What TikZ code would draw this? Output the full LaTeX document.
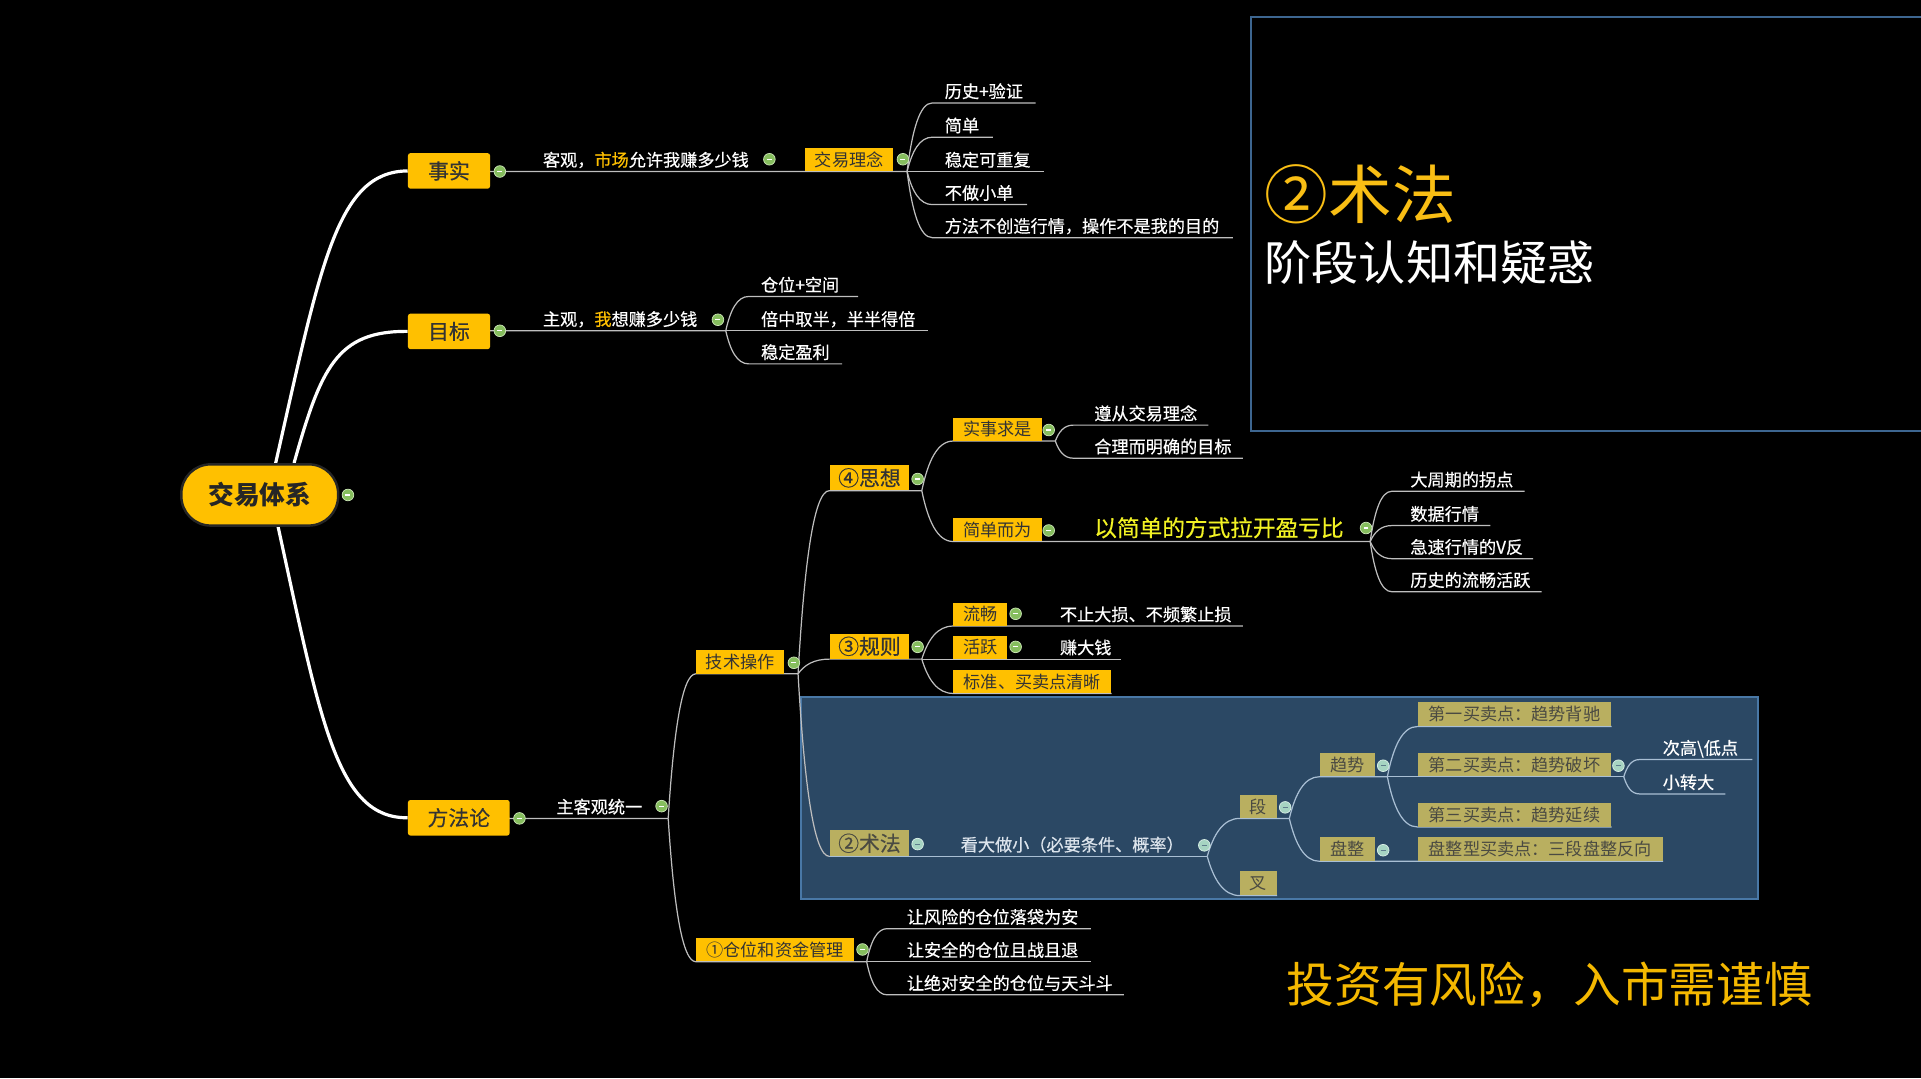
\documentclass[tikz,border=0pt]{standalone}
\usepackage{fontspec}
\setmainfont{Noto Sans CJK SC}
\newfontfamily\semib{Noto Sans CJK SC}[FakeBold=0.45]
\usetikzlibrary{calc}
\definecolor{ybox}{HTML}{FFC000}
\definecolor{boxtxt}{HTML}{333333}
\definecolor{ulgray}{HTML}{BEBEBE}
\definecolor{pline}{HTML}{A9BFD4}
\definecolor{panelfill}{HTML}{2B4864}
\definecolor{panelborder}{HTML}{4978A6}
\definecolor{tboxc}{HTML}{3D6690}
\definecolor{khaki}{HTML}{B9AF60}
\definecolor{ktxt}{HTML}{4A4A42}
\definecolor{ptext}{HTML}{DCE4EC}
\definecolor{bright}{HTML}{F2F224}
\definecolor{gold}{HTML}{FFC000}
\definecolor{titley}{HTML}{F9BE14}
\definecolor{disc}{HTML}{F4B800}
\definecolor{btnfill}{HTML}{86BE5E}
\definecolor{btnedge}{HTML}{C9E4B4}
\definecolor{pbtnfill}{HTML}{A6D4C2}
\definecolor{pbtnedge}{HTML}{D8EEE6}
\definecolor{pminus}{HTML}{5E7D8C}
\newcommand\fsz[1]{\fontsize{#1pt}{#1pt}\selectfont}
\pgfdeclarelayer{back}
\pgfdeclarelayer{lines}
\pgfsetlayers{back,lines,main}
\begin{document}
\begin{tikzpicture}[x=1pt,y=-1pt,
  uline/.style={draw=ulgray, line width=1pt},
  pul/.style={draw=pline, line width=1pt},
  trunk/.style={draw=white, line width=2.6pt},
  mcurve/.style={to path={let \p1=(\tikztostart),\p2=(\tikztotarget) in
     .. controls ({\x1+0.2*((\x2)-(\x1))},{\y1+0.6*((\y2)-(\y1))}) and ({\x1+0.5*((\x2)-(\x1))},{\y2}) .. (\p2) \tikztonodes}},
  leaf/.style={anchor=south west, inner xsep=0pt, inner ysep=4pt, align=left, text=white, font=\semib\fsz{14}, text height=10.6pt, text depth=0pt},
  ybx/.style={anchor=south west, inner sep=0pt, fill=ybox, text=boxtxt, font=\fsz{14}, text height=10.6pt, text depth=0pt, minimum height=19pt},
  kbx/.style={ybx, fill=khaki, text=ktxt},
  bigbx/.style={ybx, font=\semib\fsz{17}, text height=12.9pt, minimum width=65pt, minimum height=20.5pt},
  kbigbx/.style={bigbx, fill=khaki, text=ktxt},
  mbox/.style={rectangle, rounded corners=2pt, fill=ybox, text=boxtxt, inner sep=0pt, font=\semib\fsz{17}, text height=12.9pt, text depth=0pt, minimum height=29pt},
  rootnode/.style={rectangle, rounded corners=24pt, fill=ybox, draw=black!85, line width=2pt, text=black!85, inner sep=0pt, font=\fsz{21}\bfseries, text height=16pt, text depth=0pt, minimum width=128pt, minimum height=50pt},
  btn/.style={circle, inner sep=0pt, minimum size=9.5pt, fill=btnfill, draw=btnedge, line width=0.6pt, text=white, font=\fsz{4}},
  pbtn/.style={btn, fill=pbtnfill, draw=pbtnedge, text=pminus},
  bigtxt/.style={anchor=base west, inner sep=0pt}
]
\useasboundingbox (0,0) rectangle (1568,880);
\begin{pgfonlayer}{back}
\fill[black] (0,0) rectangle (1568,880);
\fill[panelfill] (654,569) rectangle (1435,734);
\draw[panelborder,line width=1.6pt] (654,569) rectangle (1435,734);
\draw[tboxc,line width=1.6pt] (1568,14) -- (1021,14) -- (1021,352) -- (1568,352);
\end{pgfonlayer}

% titles
\node[bigtxt, font=\fsz{52}, text=titley] (tt1) at (1032,178) {②术法};
\node[bigtxt, font=\fsz{38.5}, text=white] (tt2) at (1032,229) {阶段认知和疑惑};
\node[bigtxt, font=\fsz{39}, text=disc] (tt3) at (1050,818) {投资有风险，入市需谨慎};

% root and main topics
\node[rootnode] (root) at (212,404) {交易体系};
\node[btn] (rootc) at (284,404) {\rule{4pt}{1pt}};
\node[mbox, minimum width=67pt] (shishi) at (366.5,139.5) {事实};
\node[btn] (shishic) at (408,140) {\rule{4pt}{1pt}};
\node[mbox, minimum width=67pt] (mubiao) at (366.5,270.5) {目标};
\node[btn] (mubiaoc) at (408,270) {\rule{4pt}{1pt}};
\node[mbox, minimum width=83pt] (ffl) at (374.5,667.5) {方法论};
\node[btn] (fflc) at (424,668) {\rule{4pt}{1pt}};

% 事实 branch
\node[leaf, text width=257pt] (kg) at (400,140) {\hspace*{43pt}客观，{\color{gold}市场}允许我赚多少钱};
\node[btn] (kgc) at (628,130) {\rule{4pt}{1pt}};
\node[ybx, minimum width=72pt] (jx) at (657,140) {交易理念};
\node[btn] (jxc) at (737,130) {\rule{4pt}{1pt}};
\coordinate (jxb) at ($(jx.south east)+(11,0)$);
\node[leaf, text width=84pt] (l1) at (761,84) {\hspace*{10pt}历史+验证};
\node[leaf, text width=49pt] (l2) at (761,112) {\hspace*{10pt}简单};
\node[leaf, text width=91pt] (l3) at (761,140) {\hspace*{10pt}稳定可重复};
\node[leaf, text width=77pt] (l4) at (761,167) {\hspace*{10pt}不做小单};
\node[leaf, text width=245pt] (l5) at (761,194) {\hspace*{10pt}方法不创造行情，操作不是我的目的};

% 目标 branch
\node[leaf, text width=192pt] (zg) at (400,270) {\hspace*{43pt}主观，{\color{gold}我}想赚多少钱};
\node[btn] (zgc) at (586,261) {\rule{4pt}{1pt}};
\node[leaf, text width=89pt] (m1) at (611,242) {\hspace*{10pt}仓位+空间};
\node[leaf, text width=146pt] (m2) at (611,270) {\hspace*{10pt}倍中取半，半半得倍};
\node[leaf, text width=76pt] (m3) at (611,297) {\hspace*{10pt}稳定盈利};

% 方法论 branch
\node[leaf, text width=129pt] (zk) at (416,668) {\hspace*{38pt}主客观统一};
\node[btn] (zkc) at (540,658) {\rule{4pt}{1pt}};
\node[ybx, minimum width=72pt] (js) at (568,550) {技术操作};
\node[btn] (jsc) at (648,541) {\rule{4pt}{1pt}};
\coordinate (jsb) at ($(js.south east)+(11,0)$);
\node[ybx, minimum width=129pt] (cw) at (568,785) {①仓位和资金管理};
\node[btn] (cwc) at (704,775) {\rule{4pt}{1pt}};
\coordinate (cwb) at ($(cw.south east)+(10,0)$);
\node[leaf, text width=166pt] (c1) at (724,758) {\hspace*{16pt}让风险的仓位落袋为安};
\node[leaf, text width=166pt] (c2) at (724,785) {\hspace*{16pt}让安全的仓位且战且退};
\node[leaf, text width=193pt] (c3) at (724,812) {\hspace*{16pt}让绝对安全的仓位与天斗斗};

% ④思想
\node[bigbx] (sx) at (677,400.5) {④思想};
\node[btn] (sxc) at (749,391) {\rule{4pt}{1pt}};
\coordinate (sxb) at ($(sx.south east)+(10,0)$);
\node[ybx, minimum width=72pt] (ss) at (778,360) {实事求是};
\node[btn] (ssc) at (856,351) {\rule{4pt}{1pt}};
\coordinate (ssb) at ($(ss.south east)+(11,0)$);
\node[leaf, text width=110pt] (s1) at (876,347) {\hspace*{17pt}遵从交易理念};
\node[leaf, text width=138pt] (s2) at (876,374) {\hspace*{17pt}合理而明确的目标};
\node[ybx, minimum width=72pt] (jd) at (778,442) {简单而为};
\node[btn] (jdc) at (856,433) {\rule{4pt}{1pt}};
\node[leaf, text width=268pt, font=\semib\fsz{18.5}, text height=14pt, text=bright] (yj) at (850,442) {\hspace*{43pt}以简单的方式拉开盈亏比};
\node[btn] (yjc) at (1115,431) {\rule{4pt}{1pt}};
\node[leaf, text width=108pt] (y1) at (1136,401) {\hspace*{15pt}大周期的拐点};
\node[leaf, text width=80pt] (y2) at (1136,429) {\hspace*{15pt}数据行情};
\node[leaf, text width=115pt] (y3) at (1136,456) {\hspace*{15pt}急速行情的V反};
\node[leaf, text width=122pt] (y4) at (1136,483) {\hspace*{15pt}历史的流畅活跃};

% ③规则
\node[bigbx] (gz) at (677,538) {③规则};
\node[btn] (gzc) at (749,528) {\rule{4pt}{1pt}};
\coordinate (gzb) at ($(gz.south east)+(10,0)$);
\node[ybx, minimum width=44pt] (lc) at (778,511) {流畅};
\node[btn] (lcc) at (829,501) {\rule{4pt}{1pt}};
\node[leaf, text width=192pt] (lct) at (822,511) {\hspace*{43pt}不止大损、不频繁止损};
\node[ybx, minimum width=44pt] (hy) at (778,538) {活跃};
\node[btn] (hyc) at (829,528) {\rule{4pt}{1pt}};
\node[leaf, text width=93pt] (hyt) at (822,538) {\hspace*{43pt}赚大钱};
\node[ybx, minimum width=129pt] (bz) at (778,566) {标准、买卖点清晰};

% ②术法 panel
\node[kbigbx, minimum height=21pt] (sf) at (677,699) {②术法};
\node[pbtn] (sfc) at (749,689) {\rule{4pt}{1pt}};
\node[leaf, text=ptext, text width=243pt] (kd) at (742,699) {\hspace*{42pt}看大做小（必要条件、概率）};
\node[pbtn] (kdc) at (983,690) {\rule{4pt}{1pt}};
\node[kbx, minimum width=30pt] (duan) at (1012,668) {段};
\node[pbtn] (duanc) at (1049,659) {\rule{4pt}{1pt}};
\coordinate (duanb) at ($(duan.south east)+(10,0)$);
\node[kbx, minimum width=30pt, minimum height=20pt] (cha) at (1012,731) {叉};
\node[kbx, minimum width=45pt] (qs) at (1077,634) {趋势};
\node[pbtn] (qsc) at (1129,625) {\rule{4pt}{1pt}};
\coordinate (qsb) at ($(qs.south east)+(10,0)$);
\node[kbx, minimum width=45pt, minimum height=20pt] (pz) at (1077,703) {盘整};
\node[pbtn] (pzc) at (1129,694) {\rule{4pt}{1pt}};
\node[kbx, minimum width=200pt, minimum height=20pt] (pzx) at (1157,703) {盘整型买卖点：三段盘整反向};
\node[kbx, minimum width=158pt, minimum height=20pt] (b1) at (1157,593) {第一买卖点：趋势背驰};
\node[kbx, minimum width=158pt] (b2) at (1157,634) {第二买卖点：趋势破坏};
\node[pbtn] (b2c) at (1321,625) {\rule{4pt}{1pt}};
\coordinate (b2b) at ($(b2.south east)+(10,0)$);
\node[kbx, minimum width=158pt] (b3) at (1157,675) {第三买卖点：趋势延续};
\node[leaf, text width=92pt] (t1) at (1338,620) {\hspace*{19pt}次高\textbackslash 低点};
\node[leaf, text width=70pt] (t2) at (1338,648) {\hspace*{19pt}小转大};

\begin{pgfonlayer}{lines}
\draw[trunk] ($(root.north)+(13,0)$) .. controls (262,215) and (275,140) .. (shishi.west);
\draw[trunk] ($(root.north)+(28,0)$) .. controls (262,300) and (275,270) .. (mubiao.west);
\draw[trunk] ($(root.south)+(15,0)$) .. controls (262,590) and (275,668) .. (ffl.west);

\draw[uline] (shishi.east) -- (kg.south west) -- (kg.south east) -- (jx.south west) -- (jxb);
\foreach \nd in {l1,l2,l3,l4,l5} \draw[uline] (jxb) to[mcurve] (\nd.south west) -- (\nd.south east);
\draw[uline] (mubiao.east) -- (zg.south west) -- (zg.south east);
\foreach \nd in {m1,m2,m3} \draw[uline] (zg.south east) to[mcurve] (\nd.south west) -- (\nd.south east);
\draw[uline] (ffl.east) -- (zk.south west) -- (zk.south east);
\draw[uline] (zk.south east) to[mcurve] (js.south west) -- (jsb);
\draw[uline] (zk.south east) to[mcurve] (cw.south west) -- (cwb);
\foreach \nd in {c1,c2,c3} \draw[uline] (cwb) to[mcurve] (\nd.south west) -- (\nd.south east);
\draw[uline] (jsb) to[mcurve] (sx.south west) -- (sxb);
\draw[uline] (jsb) to[mcurve] (gz.south west) -- (gzb);
\draw[uline] (jsb) to[mcurve] (sf.south west);
\draw[uline] (sxb) to[mcurve] (ss.south west) -- (ssb);
\draw[uline] (sxb) to[mcurve] (jd.south west) -- (yj.south west) -- (yj.south east);
\foreach \nd in {s1,s2} \draw[uline] (ssb) to[mcurve] (\nd.south west) -- (\nd.south east);
\foreach \nd in {y1,y2,y3,y4} \draw[uline] (yj.south east) to[mcurve] (\nd.south west) -- (\nd.south east);
\draw[uline] (gzb) to[mcurve] (lc.south west) -- (lct.south west) -- (lct.south east);
\draw[uline] (gzb) to[mcurve] (hy.south west) -- (hyt.south west) -- (hyt.south east);
\draw[uline] (gzb) to[mcurve] (bz.south west) -- (bz.south east);

\draw[pul] (sf.south west) -- (kd.south west) -- (kd.south east);
\draw[pul] (kd.south east) to[mcurve] (duan.south west) -- (duanb);
\draw[pul] (kd.south east) to[mcurve] (cha.south west) -- (cha.south east);
\draw[pul] (duanb) to[mcurve] (qs.south west) -- (qsb);
\draw[pul] (duanb) to[mcurve] (pz.south west) -- (pzx.south west) -- (pzx.south east);
\draw[pul] (qsb) to[mcurve] (b1.south west) -- (b1.south east);
\draw[pul] (qsb) to[mcurve] (b2.south west) -- (b2b);
\draw[pul] (qsb) to[mcurve] (b3.south west) -- (b3.south east);
\foreach \nd in {t1,t2} \draw[pul] (b2b) to[mcurve] (\nd.south west) -- (\nd.south east);
\end{pgfonlayer}
\end{tikzpicture}
\end{document}
